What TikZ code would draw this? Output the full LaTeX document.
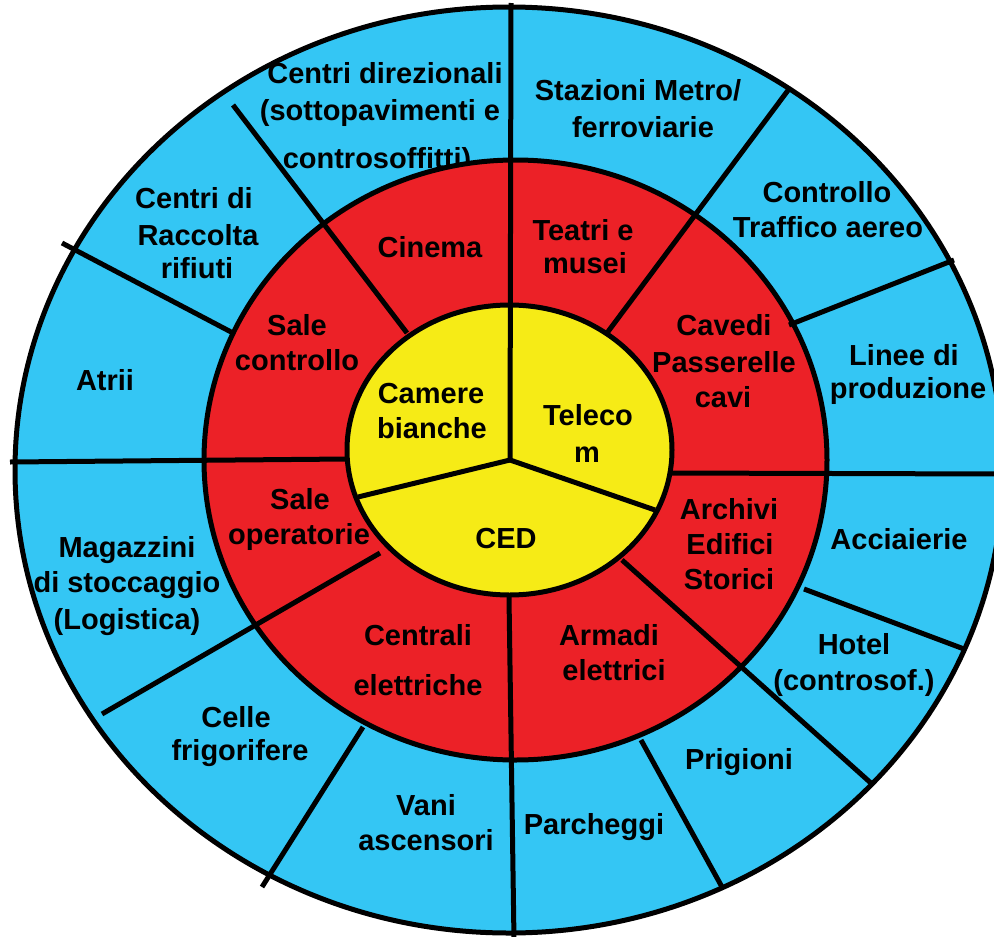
\documentclass[tikz,border=0pt]{standalone}
\usepackage{fontspec}
\setmainfont{Liberation Sans}
\definecolor{ringblue}{RGB}{52,198,244}
\definecolor{ringred}{RGB}{236,33,39}
\definecolor{coreyellow}{RGB}{246,235,22}
\newcommand\mylabel[4]{\node[lbl] (#1) at (#2,#3) {#4};}
\begin{document}
\begin{tikzpicture}[x=1pt,y=-1pt,
  lbl/.style={font=\fontsize{29}{35}\selectfont\bfseries, inner sep=0pt, text height=21pt, text depth=0pt, anchor=center},
  divider/.style={line width=5pt, draw=black},
  rim/.style={line width=5pt, draw=black}]
\useasboundingbox (0,0) rectangle (994,937);
\clip (0,0) rectangle (994,937);
\fill[white] (0,0) rectangle (994,937);
% outer ring
\coordinate (oc) at (509,470);
\fill[ringblue] (oc) ellipse [x radius=494pt, y radius=463pt];
\draw[rim] (oc) ellipse [x radius=494pt, y radius=463pt];
% blue labels
\mylabel{cd1}{385}{73}{Centri direzionali}
\mylabel{cd2}{380}{110}{(sottopavimenti e}
\mylabel{cd3}{377}{158}{controsoffitti)}
\mylabel{cr1}{194}{198}{Centri di}
\mylabel{cr2}{198}{235}{Raccolta}
\mylabel{cr3}{197}{268}{rifiuti}
\mylabel{at}{105}{380}{Atrii}
\mylabel{mg1}{127}{547}{Magazzini}
\mylabel{mg2}{127}{582}{di stoccaggio}
\mylabel{mg3}{127}{619}{(Logistica)}
\mylabel{ce1}{236}{717}{Celle}
\mylabel{ce2}{240}{750}{frigorifere}
\mylabel{va1}{426}{805}{Vani}
\mylabel{va2}{426}{840}{ascensori}
\mylabel{pa}{594}{824}{Parcheggi}
\mylabel{pr}{739}{759}{Prigioni}
\mylabel{ho1}{854}{644}{Hotel}
\mylabel{ho2}{854}{680}{(controsof.)}
\mylabel{ac}{899}{539}{Acciaierie}
\mylabel{li1}{904}{355}{Linee di}
\mylabel{li2}{908}{388}{produzione}
\mylabel{ct1}{827}{192}{Controllo}
\mylabel{ct2}{828}{227}{Traffico aereo}
\mylabel{st1}{638}{90}{Stazioni Metro/}
\mylabel{st2}{643}{127}{ferroviarie}
% middle ring
\coordinate (rc) at (515.5,460);
\fill[ringred] (rc) ellipse [x radius=311.5pt, y radius=300pt];
\draw[rim] (rc) ellipse [x radius=311.5pt, y radius=300pt];
\mylabel{ci}{430}{247}{Cinema}
\mylabel{te1}{583}{230}{Teatri e}
\mylabel{te2}{585}{263}{musei}
\mylabel{cv1}{724}{325}{Cavedi}
\mylabel{cv2}{724}{362}{Passerelle}
\mylabel{cv3}{723}{397}{cavi}
\mylabel{ar1}{729}{509}{Archivi}
\mylabel{ar2}{730}{544}{Edifici}
\mylabel{ar3}{729}{579}{Storici}
\mylabel{am1}{609}{635}{Armadi}
\mylabel{am2}{614}{670}{elettrici}
\mylabel{cn1}{418}{635}{Centrali}
\mylabel{cn2}{418}{685}{elettriche}
\mylabel{so1}{300}{499}{Sale}
\mylabel{so2}{299}{534}{operatorie}
\mylabel{sc1}{297}{325}{Sale}
\mylabel{sc2}{297}{360}{controllo}
% core
\coordinate (yc) at (509.5,450);
\fill[coreyellow] (yc) ellipse [x radius=162.5pt, y radius=145pt];
\draw[rim] (yc) ellipse [x radius=162.5pt, y radius=145pt];
\mylabel{cb1}{431}{393}{Camere}
\mylabel{cb2}{432}{428}{bianche}
\mylabel{tl1}{588}{415}{Teleco}
\mylabel{tl2}{587}{452}{m}
\mylabel{ced}{506}{538}{CED}
% divider end points
\coordinate (hub) at (510,460);
\coordinate (vtop) at (511,3);
\coordinate (vbot1) at (509,597);
\coordinate (vbot2) at (514,940);
\coordinate (hl1) at (10,462);
\coordinate (hl2) at (347,459);
\coordinate (hr1) at (668,473);
\coordinate (hr2) at (1000,474);
\coordinate (yl) at (358,497);
\coordinate (yr) at (655,510);
\coordinate (a1) at (233,105);
\coordinate (a2) at (407,333);
\coordinate (b1) at (62,243);
\coordinate (b2) at (233,333);
\coordinate (c1) at (789,89);
\coordinate (c2) at (607,333);
\coordinate (d1) at (954,260);
\coordinate (d2) at (789,325);
\coordinate (e1) at (622,560);
\coordinate (e2) at (872,784);
\coordinate (f1) at (804,589);
\coordinate (f2) at (964,649);
\coordinate (g1) at (641,740);
\coordinate (g2) at (722,887);
\coordinate (h1) at (380,553);
\coordinate (h2) at (102,714);
\coordinate (k1) at (363,727);
\coordinate (k2) at (262,887);
% dividers
\draw[divider] (vtop) -- (hub);
\draw[divider] (hub) -- (yl);
\draw[divider] (hub) -- (yr);
\draw[divider] (vbot1) -- (vbot2);
\draw[divider] (hl1) -- (hl2);
\draw[divider] (hr1) -- (hr2);
\draw[divider] (a1) -- (a2);
\draw[divider] (b1) -- (b2);
\draw[divider] (c1) -- (c2);
\draw[divider] (d1) -- (d2);
\draw[divider] (e1) -- (e2);
\draw[divider] (f1) -- (f2);
\draw[divider] (g1) -- (g2);
\draw[divider] (h1) -- (h2);
\draw[divider] (k1) -- (k2);
\end{tikzpicture}
\end{document}
